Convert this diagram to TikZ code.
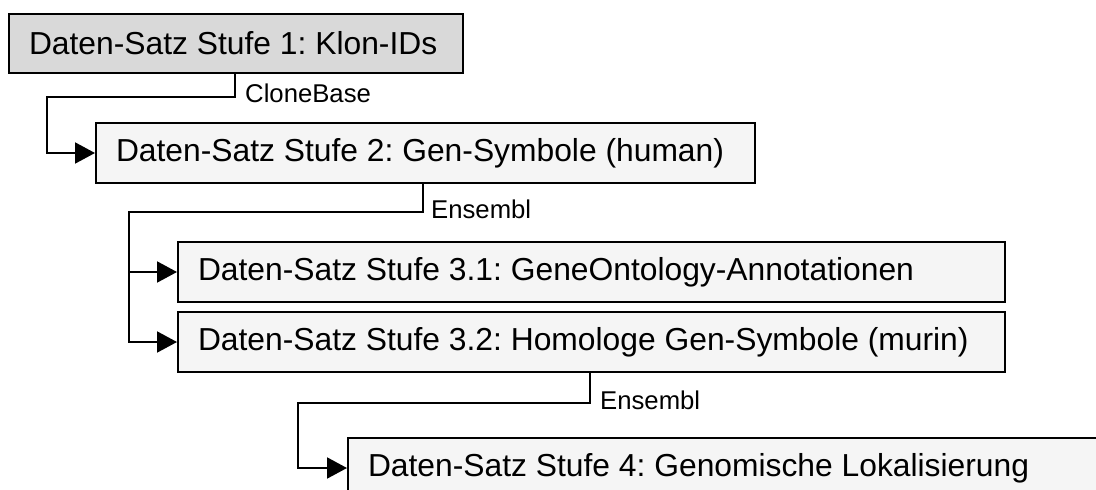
\documentclass[tikz,border=0pt]{standalone}
\usepackage{fontspec}
\setmainfont{Liberation Sans}
\usetikzlibrary{arrows.meta}
\frenchspacing
\definecolor{stageone}{HTML}{D9D9D9}
\definecolor{stagefill}{HTML}{F5F5F5}
% text of a stage box, set flush left in a fixed width
\newcommand{\stagetext}[2]{\makebox[#1][l]{#2}}
\tikzset{
  databox/.style={draw=black, line width=2pt, fill=stagefill, anchor=north west,
    minimum height=60pt, inner xsep=20pt, inner ysep=0pt,
    font=\fontsize{31.8}{38}\selectfont},
  conn/.style={draw=black, line width=2pt},
  arr/.style={conn, -{Triangle[length=20pt,width=21pt]}},
  lbl/.style={inner sep=0pt, anchor=base west, font=\fontsize{25.7}{30}\selectfont}
}
\begin{document}
\begin{tikzpicture}[x=1pt,y=-1pt]
  \clip (0,0) rectangle (1096,490);
  \fill[white] (0,0) rectangle (1096,490);

  % data-set stages
  \node[databox, fill=stageone, minimum height=59pt] (s1) at (8,13)
    {\stagetext{414pt}{Daten-Satz Stufe 1: Klon-IDs}};
  \node[databox] (s2) at (95,122)
    {\stagetext{619pt}{Daten-Satz Stufe 2: Gen-Symbole (human)}};
  \node[databox] (s31) at (177,241)
    {\stagetext{787pt}{Daten-Satz Stufe 3.1: GeneOntology-Annotationen}};
  \node[databox] (s32) at (177,311)
    {\stagetext{787pt}{Daten-Satz Stufe 3.2: Homologe Gen-Symbole (murin)}};
  \node[databox] (s4) at (347,437)
    {\stagetext{760pt}{Daten-Satz Stufe 4: Genomische Lokalisierung}};

  % connector start points and bends
  \coordinate (c1) at ([xshift=227pt]s1.south west);
  \coordinate (b1) at (47,97);
  \coordinate (c2) at ([xshift=328pt]s2.south west);
  \coordinate (b2) at (129,212);
  \coordinate (c3) at ([xshift=413pt]s32.south west);
  \coordinate (b3) at (298,403);

  % connectors
  \draw[arr] (c1) |- (b1) |- (s2.west);
  \draw[arr] (c2) |- (b2) |- (s32.west);
  \draw[arr] (b2) |- (s31.west);
  \draw[arr] (c3) |- (b3) |- (s4.west);

  % connector labels
  \node[lbl] (l1) at (245,102) {CloneBase};
  \node[lbl] (l2) at (431,218) {Ensembl};
  \node[lbl] (l3) at (600,409) {Ensembl};
\end{tikzpicture}
\end{document}
